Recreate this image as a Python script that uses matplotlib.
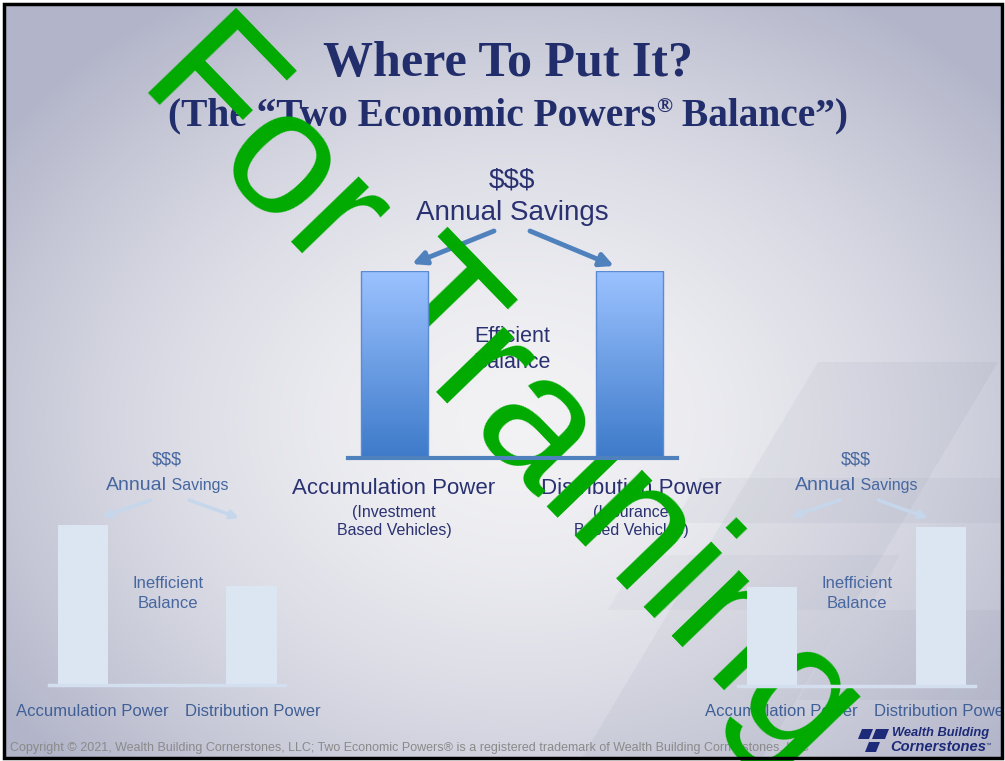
import numpy as np
import matplotlib
matplotlib.use("Agg")
import matplotlib.pyplot as plt
from matplotlib.patches import Rectangle, Polygon

W, H = 1005, 761

# chart content
bar_labels = ["Accumulation Power", "Distribution Power"]
main_values = [100, 100]
left_values = [100, 62]
right_values = [62, 100]
main_sub = ["(Investment\nBased Vehicles)", "(Insurance\nBased Vehicles)"]
title1 = "Where To Put It?"
title2 = ["(The \u201cTwo Economic Powers", "\u00ae", " Balance\u201d)"]
copyright_text = ("Copyright \u00a9 2021, Wealth Building Cornerstones, LLC; Two Economic Powers\u00ae "
                  "is a registered trademark of Wealth Building Cornerstones, LLC")
watermark = "For Training"

NAVY = "#222d6b"
MAIN_TXT = "#2a3171"
SOFT_TXT = "#4767a0"
SANS = ["Liberation Sans", "DejaVu Sans"]
SERIF = ["Liberation Serif", "DejaVu Serif"]

fig = plt.figure(figsize=(W / 100, H / 100), dpi=100)
fig.patch.set_facecolor("white")
ax = fig.add_axes([0, 0, 1, 1])

# background gradient
yy, xx = np.mgrid[0:H, 0:W]
r = np.sqrt(((xx - 520) / 640.0) ** 2 + ((yy - 420) / 500.0) ** 2)
r = np.clip(r, 0, 1) ** 1.7
light = np.array([0.95, 0.95, 0.96])
dark = np.array([0.70, 0.71, 0.79])
bg = light + (dark - light) * r[..., None]
ax.imshow(bg, extent=(4, 1002, 758, 4), zorder=0, aspect="auto")
ax.set_xlim(0, W)
ax.set_ylim(H, 0)
ax.axis("off")

# faint decorative shapes lower right
shapes = [
    ([(818, 362), (998, 362), (760, 761), (580, 761)], 0.06),
    ([(700, 478), (1002, 478), (1002, 523), (674, 523)], 0.05),
    ([(640, 555), (900, 555), (868, 610), (608, 610)], 0.04),
    ([(850, 610), (1002, 610), (1002, 700), (798, 700)], 0.05),
]
for pts, a in shapes:
    ax.add_patch(Polygon(pts, closed=True, facecolor="#5a5f80", alpha=a, edgecolor="none", zorder=1))

# border
ax.add_patch(Rectangle((3.5, 3.5), 998, 754, fill=False, edgecolor="black", lw=2.5, zorder=20))

renderer = fig.canvas.get_renderer()


def run_text(x_center, y, pieces, color, family, weight="normal"):
    # pieces: (text, size, raise_px)
    objs = []
    for txt, size, rise in pieces:
        t = ax.text(0, y - rise, txt, fontsize=size, color=color, family=family, fontweight=weight,
                    ha="left", va="baseline", zorder=5)
        objs.append(t)
    widths = [t.get_window_extent(renderer).width for t in objs]
    x = x_center - sum(widths) / 2
    for t, w in zip(objs, widths):
        t.set_x(x)
        x += w


# titles
ax.text(508, 76, title1, fontsize=36, fontweight="bold", color=NAVY, family=SERIF,
        ha="center", va="baseline", zorder=5)
run_text(508, 125, [(title2[0], 28.4, 0), (title2[1], 15.5, 12), (title2[2], 28.4, 0)], NAVY, SERIF, "bold")


def bar_panel(x0, x1, ybase, ytop, values, width, color, base_color, base_lw, grad=False):
    axp = fig.add_axes([x0 / W, (H - ybase) / H, (x1 - x0) / W, (ybase - ytop) / H])
    axp.set_xlim(-0.2, 1.2)
    axp.set_ylim(0, 100)
    axp.axis("off")
    axp.patch.set_alpha(0)
    bars = axp.bar([0, 1], values, width=width, color="none" if grad else color,
                   edgecolor="#5b8bd2" if grad else "none", lw=1, zorder=2)
    if grad:
        g = np.linspace(0, 1, 256)[:, None]
        cols = np.array([0.61, 0.76, 1.0]) * (1 - g[..., None]) + np.array([0.24, 0.48, 0.79]) * g[..., None]
        for b in bars:
            im = axp.imshow(cols, extent=(b.get_x(), b.get_x() + b.get_width(), 0, b.get_height()),
                            aspect="auto", zorder=1)
            im.set_clip_path(b)
        axp.set_xlim(-0.2, 1.2)
        axp.set_ylim(0, 100)
    axp.axhline(0, color=base_color, lw=base_lw, clip_on=False, zorder=3)
    return axp


bar_panel(347.5, 676.5, 458, 271, main_values, 0.285, None, "#4f81bd", 3, grad=True)
bar_panel(49.3, 285.2, 685, 525, left_values, 0.297, "#dce6f2", "#d3dfee", 2.5)
bar_panel(738.2, 974.8, 686, 527, right_values, 0.296, "#dce6f2", "#d3dfee", 2.5)

# main diagram text
ax.text(512, 181, "$$$", fontsize=20, color=MAIN_TXT, family=SANS, ha="center", va="center", zorder=5)
ax.text(512, 213, "Annual Savings", fontsize=20, color=MAIN_TXT, family=SANS, ha="center", va="center", zorder=5)
ax.text(512, 336, "Efficient", fontsize=15.5, color=MAIN_TXT, family=SANS, ha="center", va="center", zorder=5)
ax.text(512, 363, "Balance", fontsize=15.5, color=MAIN_TXT, family=SANS, ha="center", va="center", zorder=5)
for xc, lab, sub in zip([394, 631], bar_labels, main_sub):
    ax.text(xc, 488, lab, fontsize=16, color=MAIN_TXT, family=SANS, ha="center", va="center", zorder=5)
    ax.text(xc, 521, sub, fontsize=11.5, color=MAIN_TXT, family=SANS, ha="center", va="center",
            linespacing=1.25, zorder=5)

arrow_main = dict(arrowstyle="-|>", color="#4f81bd", lw=3.5, mutation_scale=20, shrinkA=0, shrinkB=0)
ax.annotate("", xy=(412, 264), xytext=(494, 231), arrowprops=arrow_main, zorder=4)
ax.annotate("", xy=(614, 266), xytext=(530, 231), arrowprops=arrow_main, zorder=4)

# small diagrams text
arrow_soft = dict(arrowstyle="-|>", color="#c6d7ec", lw=2.5, mutation_scale=12, shrinkA=0, shrinkB=0)
for xc, xl, xr in [(167, 83, 251.5), (856, 772, 941)]:
    ax.text(xc, 460, "$$$", fontsize=13, color=SOFT_TXT, family=SANS, ha="center", va="center", zorder=5)
    run_text(xc, 490, [("Annual", 14, 0), (" Savings", 11.5, 0)], SOFT_TXT, SANS)
    ax.text(xc + 1, 583, "Inefficient", fontsize=12, color=SOFT_TXT, family=SANS, ha="center", va="center", zorder=5)
    ax.text(xc + 1, 603, "Balance", fontsize=12, color=SOFT_TXT, family=SANS, ha="center", va="center", zorder=5)
    ax.annotate("", xy=(xc - 65, 517), xytext=(xc - 16, 500), arrowprops=arrow_soft, zorder=4)
    ax.annotate("", xy=(xc + 72, 518), xytext=(xc + 22, 500), arrowprops=arrow_soft, zorder=4)
    ax.text(xl + 9, 711, bar_labels[0], fontsize=12, color="#3f5f97", family=SANS, ha="center", va="center", zorder=5)
    ax.text(xr + 1, 711, bar_labels[1], fontsize=12, color="#3f5f97", family=SANS, ha="center", va="center",
            zorder=5, clip_on=True)

# footer
ax.text(10, 748, copyright_text, fontsize=9, color="#8a8a8a",
        family=["Liberation Sans Narrow", "Liberation Sans"], ha="left", va="center", zorder=5)

# logo
for pts in [[(862, 729), (873, 729), (869, 739), (858, 739)],
            [(876, 729), (889, 729), (885, 739), (872, 739)],
            [(869, 742), (880, 742), (876, 752), (865, 752)]]:
    ax.add_patch(Polygon(pts, closed=True, facecolor="#1c2a78", edgecolor="none", zorder=5))
ax.text(892, 733, "Wealth Building", fontsize=9.3, fontweight="bold", style="italic", color="#1c2a78",
        family=SANS, ha="left", va="center", zorder=5)
ax.text(890, 747, "Cornerstones", fontsize=10.6, fontweight="bold", style="italic", color="#1c2a78",
        family=SANS, ha="left", va="center", zorder=5)
ax.text(986, 745, "\u2122", fontsize=4, color="#1c2a78", family=SANS, ha="left", va="center", zorder=5)

# watermark
ax.text(502, 394, watermark, fontsize=129, color="#00aa00", family=SANS, rotation=-46,
        rotation_mode="anchor", ha="center", va="center", zorder=10)

fig.savefig("out.png", dpi=100)
